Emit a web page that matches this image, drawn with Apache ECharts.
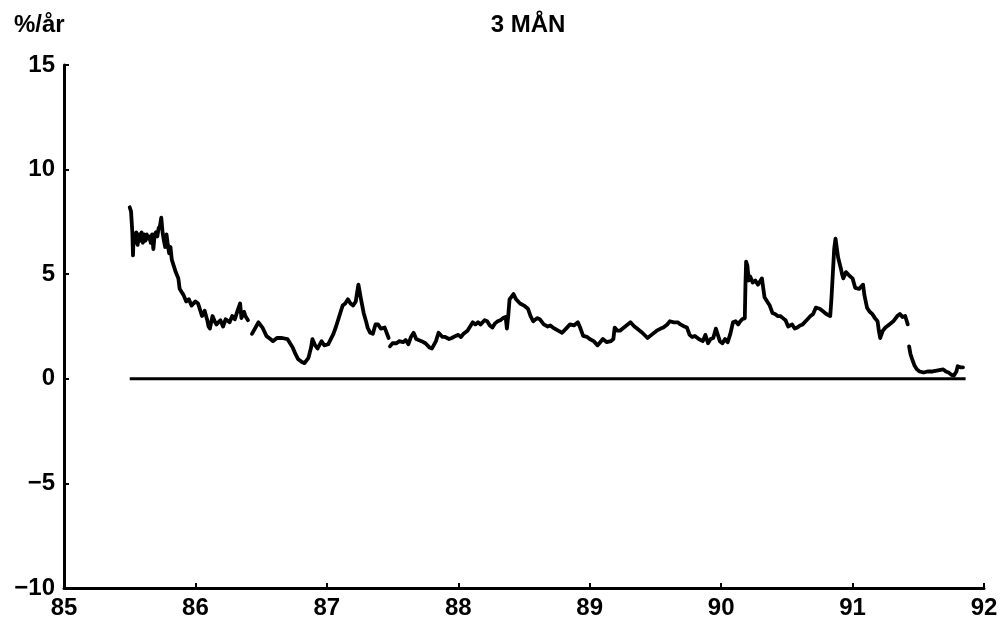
<!DOCTYPE html>
<html>
<head>
<meta charset="utf-8">
<script src="https://cdn.jsdelivr.net/npm/echarts@6/dist/echarts.min.js"></script>
<style>
html,body{margin:0;padding:0;background:#fff;}
#c{width:1006px;height:627px;}
</style>
</head>
<body>
<div id="c"></div>
<script>
// Title and axis labels
var chartTitle = '3 MÅN';
var yUnit = '%/år';
var xTicks = [85, 86, 87, 88, 89, 90, 91, 92];
var yTicks = [-10, -5, 0, 5, 10, 15];

// 3-month rate (%/year), [year, value], four unbroken stretches
var seg1 = [[85.50,8.2],[85.51,8.0],[85.52,7.0],[85.525,5.9],[85.53,6.9],[85.54,6.5],[85.55,7.0],[85.56,6.4],[85.57,6.9],[85.58,6.6],[85.59,7.0],[85.60,6.5],[85.61,6.9],[85.62,6.6],[85.63,6.9],[85.64,6.7],[85.65,6.8],[85.66,6.5],[85.67,6.9],[85.68,6.2],[85.69,6.9],[85.70,7.0],[85.71,6.8],[85.72,7.2],[85.73,7.3],[85.74,7.7],[85.75,7.0],[85.76,6.6],[85.77,6.3],[85.78,6.9],[85.79,6.4],[85.80,6.0],[85.81,6.3],[85.82,5.7],[85.84,5.3],[85.85,5.1],[85.87,4.8],[85.88,4.3],[85.89,4.2],[85.91,4.0],[85.93,3.7],[85.95,3.8],[85.97,3.5],[86.00,3.7],[86.02,3.6],[86.03,3.4],[86.05,3.0],[86.07,3.25],[86.09,2.8],[86.10,2.5],[86.11,2.4],[86.13,3.0],[86.15,2.7],[86.16,2.6],[86.19,2.8],[86.21,2.5],[86.23,2.85],[86.26,2.7],[86.28,3.0],[86.30,2.85],[86.32,3.25],[86.34,3.6],[86.35,2.9],[86.37,3.2],[86.38,3.0],[86.40,2.8]];
var seg2 = [[86.43,2.15],[86.48,2.7],[86.51,2.45],[86.54,2.05],[86.57,1.9],[86.59,1.8],[86.62,1.95],[86.66,1.95],[86.70,1.9],[86.72,1.7],[86.74,1.5],[86.76,1.2],[86.78,0.95],[86.81,0.8],[86.83,0.75],[86.86,1.0],[86.88,1.5],[86.89,1.9],[86.91,1.6],[86.93,1.45],[86.96,1.8],[86.98,1.6],[87.01,1.65],[87.03,1.9],[87.05,2.15],[87.07,2.5],[87.09,2.9],[87.11,3.3],[87.12,3.5],[87.14,3.6],[87.16,3.8],[87.18,3.6],[87.20,3.5],[87.22,3.7],[87.24,4.5],[87.26,3.8],[87.28,3.15],[87.30,2.7],[87.31,2.45],[87.33,2.2],[87.35,2.15],[87.37,2.6],[87.39,2.6],[87.41,2.4],[87.44,2.45],[87.47,1.95]];
var seg3 = [[87.48,1.55],[87.50,1.7],[87.53,1.7],[87.55,1.8],[87.58,1.75],[87.60,1.85],[87.62,1.65],[87.64,2.0],[87.66,2.2],[87.68,1.9],[87.69,1.85],[87.72,1.8],[87.75,1.7],[87.78,1.5],[87.80,1.45],[87.83,1.8],[87.85,2.2],[87.88,2.0],[87.90,2.0],[87.93,1.9],[87.95,1.95],[87.98,2.05],[88.00,2.1],[88.02,2.0],[88.04,2.15],[88.07,2.3],[88.09,2.5],[88.11,2.7],[88.13,2.6],[88.15,2.7],[88.17,2.6],[88.20,2.8],[88.22,2.75],[88.24,2.55],[88.26,2.45],[88.28,2.65],[88.30,2.75],[88.32,2.8],[88.34,2.9],[88.36,2.95],[88.37,2.4],[88.38,3.0],[88.39,3.8],[88.42,4.05],[88.44,3.8],[88.47,3.6],[88.50,3.5],[88.53,3.35],[88.55,3.0],[88.57,2.75],[88.60,2.9],[88.62,2.85],[88.65,2.6],[88.68,2.5],[88.70,2.55],[88.72,2.45],[88.76,2.3],[88.79,2.2],[88.82,2.4],[88.85,2.6],[88.88,2.55],[88.91,2.7],[88.93,2.4],[88.95,2.05],[88.98,2.0],[89.00,1.9],[89.03,1.8],[89.06,1.6],[89.08,1.75],[89.10,1.9],[89.13,1.75],[89.16,1.8],[89.18,1.9],[89.19,2.45],[89.21,2.3],[89.23,2.3],[89.27,2.5],[89.31,2.7],[89.34,2.5],[89.36,2.4],[89.40,2.2],[89.44,1.95],[89.47,2.1],[89.51,2.3],[89.54,2.4],[89.56,2.45],[89.59,2.6],[89.61,2.75],[89.64,2.7],[89.67,2.7],[89.69,2.6],[89.72,2.5],[89.74,2.45],[89.76,2.1],[89.78,2.0],[89.80,2.05],[89.83,1.9],[89.86,1.8],[89.88,2.1],[89.90,1.7],[89.92,1.9],[89.94,1.95],[89.96,2.4],[89.97,2.45],[89.99,1.8],[90.01,1.7],[90.03,1.9],[90.05,1.75],[90.07,2.15],[90.09,2.7],[90.11,2.75],[90.13,2.6],[90.14,2.7],[90.16,2.85],[90.18,2.9],[90.185,4.5],[90.19,5.6],[90.20,5.4],[90.21,4.7],[90.22,4.9],[90.24,4.6],[90.26,4.7],[90.28,4.5],[90.30,4.7],[90.31,4.8],[90.33,3.9],[90.35,3.7],[90.37,3.5],[90.39,3.15],[90.41,3.1],[90.43,3.0],[90.45,3.0],[90.47,2.9],[90.49,2.8],[90.51,2.5],[90.54,2.6],[90.56,2.4],[90.58,2.45],[90.60,2.55],[90.62,2.6],[90.65,2.8],[90.68,3.0],[90.70,3.1],[90.72,3.4],[90.75,3.35],[90.77,3.25],[90.80,3.1],[90.83,3.0],[90.84,3.9],[90.86,6.2],[90.87,6.7],[90.89,5.8],[90.91,5.3],[90.92,5.0],[90.93,4.8],[90.95,5.1],[90.96,5.15],[90.98,4.9],[91.00,4.8],[91.02,4.35],[91.05,4.3],[91.08,4.5],[91.09,4.0],[91.11,3.4],[91.13,3.2],[91.15,3.1],[91.17,2.9],[91.19,2.75],[91.20,2.3],[91.21,1.95],[91.23,2.3],[91.25,2.45],[91.28,2.6],[91.31,2.75],[91.34,3.0],[91.36,3.1],[91.38,2.95],[91.40,3.0],[91.42,2.6]];
var seg4 = [[91.43,1.55],[91.44,1.2],[91.45,1.0],[91.47,0.65],[91.49,0.45],[91.51,0.35],[91.54,0.3],[91.57,0.35],[91.61,0.35],[91.65,0.4],[91.69,0.45],[91.71,0.35],[91.73,0.3],[91.75,0.2],[91.77,0.15],[91.79,0.35],[91.80,0.6],[91.82,0.55],[91.84,0.55]];

// zero reference line span
var zeroSpan = [85.50, 91.86];

var FONT = 'Liberation Sans';
var chart = echarts.init(document.getElementById('c'), null, {renderer: 'canvas'});

function lineSeries(d) {
  return {
    type: 'line', data: d, showSymbol: false, symbol: 'none',
    lineStyle: {color: '#000', width: 3.8, join: 'round', cap: 'round'},
    silent: true, z: 3
  };
}

var series = [seg1, seg2, seg3, seg4].map(lineSeries);
series.push({
  type: 'line', data: [[zeroSpan[0], 0], [zeroSpan[1], 0]], symbol: 'none',
  lineStyle: {color: '#000', width: 3}, silent: true, z: 2
});

chart.setOption({
  animation: false,
  backgroundColor: '#fff',
  title: [{
    text: chartTitle, left: 523, top: 8, textAlign: 'center',
    textStyle: {fontFamily: FONT, fontSize: 24, fontWeight: 'bold', color: '#000'}
  }, {
    text: yUnit, left: 9, top: 8,
    textStyle: {fontFamily: FONT, fontSize: 24, fontWeight: 'bold', color: '#000'}
  }],
  grid: {left: 64, right: 22, top: 65, bottom: 39, containLabel: false},
  xAxis: {
    type: 'value', min: xTicks[0], max: xTicks[xTicks.length - 1], interval: 1,
    axisLine: {onZero: false, lineStyle: {color: '#000', width: 3}},
    axisTick: {inside: true, length: 5, lineStyle: {color: '#000', width: 2}},
    axisLabel: {fontFamily: FONT, fontSize: 24, fontWeight: 'bold', color: '#000', margin: 8},
    splitLine: {show: false}
  },
  yAxis: {
    type: 'value', min: yTicks[0], max: yTicks[yTicks.length - 1], interval: 5,
    axisLine: {onZero: false, lineStyle: {color: '#000', width: 3}},
    axisTick: {inside: true, length: 5, lineStyle: {color: '#000', width: 2}},
    axisLabel: {
      fontFamily: FONT, fontSize: 24, fontWeight: 'bold', color: '#000', margin: 9,
      formatter: function (v) { return String(v).replace('-', '\u2212'); }
    },
    splitLine: {show: false}
  },
  series: series
});
</script>
</body>
</html>
